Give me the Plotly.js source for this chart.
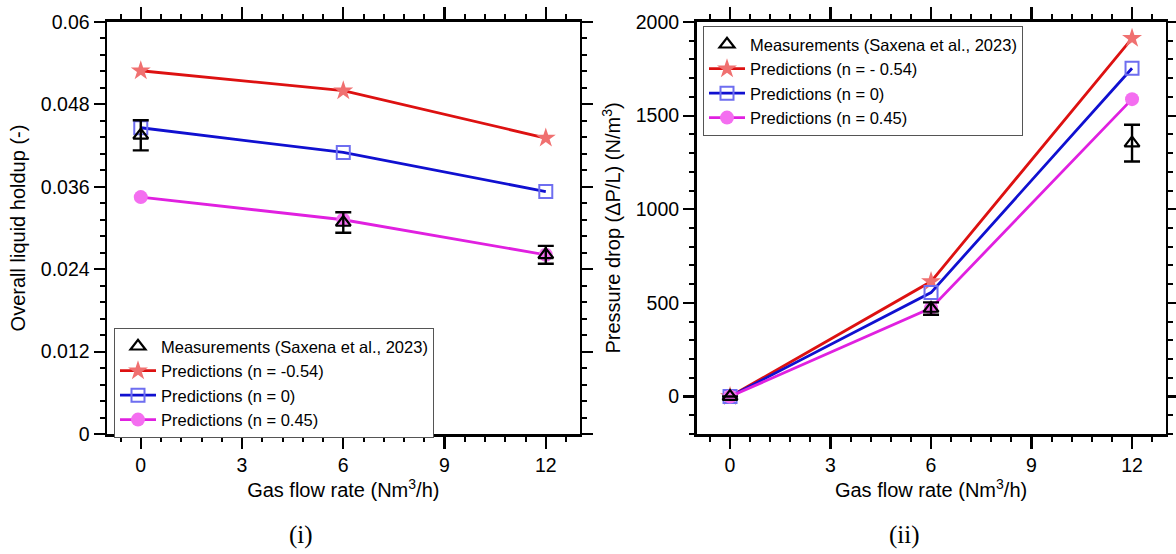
<!DOCTYPE html>
<html>
<head>
<meta charset="utf-8">
<script src="https://cdn.plot.ly/plotly-3.0.1.min.js"></script>
<style>
  html, body { margin: 0; padding: 0; background: #ffffff; }
  #chart { width: 1176px; height: 554px; }
</style>
</head>
<body>
<div id="chart"></div>
<script>
// Gas flow rates (Nm3/h)
const flowRates = [0, 6, 12];

// (i) Overall liquid holdup (-)
const holdupMeasured = [0.0435, 0.0308, 0.0261];
const holdupMeasuredErr = [0.0022, 0.0015, 0.0013];
const holdupNeg054 = [0.0529, 0.0500, 0.0431];
const holdupZero = [0.0446, 0.0410, 0.0353];
const holdupPos045 = [0.0345, 0.0312, 0.0261];

// (ii) Pressure drop ΔP/L (N/m3)
const dpMeasured = [0, 470, 1353];
const dpMeasuredErr = [0, 33, 98];
const dpNeg054 = [0, 614, 1913];
const dpZero = [0, 555, 1753];
const dpPos045 = [0, 472, 1588];

// Legend labels per panel
const labelsLeft = ['Measurements (Saxena et al., 2023)', 'Predictions (n = -0.54)', 'Predictions (n = 0)', 'Predictions (n = 0.45)'];
const labelsRight = ['Measurements (Saxena et al., 2023)', 'Predictions (n = - 0.54)', 'Predictions (n = 0)', 'Predictions (n = 0.45)'];

const FONT = 'Liberation Sans, Arial, sans-serif';
const TICK_SIZE = 19.5;
const TITLE_SIZE = 20;
const lineStyles = [
  { line: '#dd1111', marker: { symbol: 'star', size: 15, color: '#f07070' } },
  { line: '#1010d0', marker: { symbol: 'square-open', size: 13, color: '#6e6ef0', line: { width: 2 } } },
  { line: '#e020e0', marker: { symbol: 'circle', size: 14, color: '#f46ef0' } }
];

function panelTraces(xa, ya, legendId, labels, meas, measErr, preds) {
  const traces = [];
  preds.forEach((ys, i) => {
    const st = lineStyles[i];
    traces.push({
      x: flowRates, y: ys, xaxis: xa, yaxis: ya, legend: legendId,
      type: 'scatter', mode: 'lines+markers', name: labels[i + 1],
      legendrank: i + 2,
      line: { color: st.line, width: 2.8 },
      marker: Object.assign({}, st.marker)
    });
  });
  traces.push({
    x: flowRates, y: meas, xaxis: xa, yaxis: ya, legend: legendId,
    type: 'scatter', mode: 'markers', name: labels[0],
    legendrank: 1,
    marker: { symbol: 'triangle-up-open', size: 13, color: '#000000', line: { width: 2.2 } },
    error_y: { type: 'data', array: measErr, visible: true, color: '#000000', thickness: 2.4, width: 8 }
  });
  return traces;
}

const data = [].concat(
  panelTraces('x', 'y', 'legend', labelsLeft, holdupMeasured, holdupMeasuredErr, [holdupNeg054, holdupZero, holdupPos045]),
  panelTraces('x2', 'y2', 'legend2', labelsRight, dpMeasured, dpMeasuredErr, [dpNeg054, dpZero, dpPos045])
);

function xAxis(domain, anchor) {
  return {
    domain: domain, anchor: anchor, range: [-1, 13],
    tickmode: 'linear', tick0: 0, dtick: 3,
    ticks: 'outside', ticklen: 12, tickwidth: 2.2, tickcolor: '#000',
    minor: { dtick: 0.6, tick0: 0, ticks: 'outside', ticklen: 5, tickwidth: 2, tickcolor: '#000' },
    showline: true, linecolor: '#000', linewidth: 2.5, mirror: 'ticks',
    showgrid: false, zeroline: false,
    tickfont: { family: FONT, size: TICK_SIZE, color: '#000' },
    title: { text: 'Gas flow rate (Nm<sup>3</sup>/h)', font: { family: FONT, size: TITLE_SIZE, color: '#000' }, standoff: 2 }
  };
}

function yAxis(anchor, range, dtick, minorDtick, titleText) {
  return {
    domain: [0.2166, 0.9603], anchor: anchor, range: range,
    tickmode: 'linear', tick0: 0, dtick: dtick,
    ticks: 'outside', ticklen: 11, tickwidth: 2.2, tickcolor: '#000',
    minor: { dtick: minorDtick, tick0: 0, ticks: 'outside', ticklen: 5, tickwidth: 2, tickcolor: '#000' },
    showline: true, linecolor: '#000', linewidth: 2.5, mirror: 'ticks',
    showgrid: false, zeroline: false,
    tickfont: { family: FONT, size: TICK_SIZE, color: '#000' },
    title: { text: titleText, font: { family: FONT, size: TITLE_SIZE, color: '#000' }, standoff: 10 }
  };
}

const legendBase = {
  bgcolor: '#ffffff', bordercolor: '#555555', borderwidth: 1,
  font: { family: FONT, size: 16.5, color: '#000' },
  xanchor: 'left', yanchor: 'top', tracegroupgap: 0, itemwidth: 36
};

const layout = {
  width: 1176, height: 554,
  margin: { l: 0, r: 0, t: 0, b: 0 },
  paper_bgcolor: '#ffffff', plot_bgcolor: '#ffffff',
  showlegend: true,
  xaxis: xAxis([0.0910, 0.4928], 'y'),
  yaxis: yAxis('x', [0, 0.06], 0.012, 0.0024, 'Overall liquid holdup (-)'),
  xaxis2: xAxis([0.5923, 0.9911], 'y2'),
  yaxis2: yAxis('x2', [-200, 2000], 500, 100, 'Pressure drop (\u0394P/L) (N/m<sup>3</sup>)'),
  legend: Object.assign({ x: 114 / 1176, y: 1 - 328 / 554 }, legendBase),
  legend2: Object.assign({ x: 703 / 1176, y: 1 - 26 / 554 }, legendBase),
  annotations: [
    { text: '(i)', xref: 'paper', yref: 'paper', x: 301 / 1176, y: 1 - 535 / 554,
      xanchor: 'center', yanchor: 'middle', showarrow: false,
      font: { family: 'Liberation Serif, Times New Roman, serif', size: 25, color: '#000' } },
    { text: '(ii)', xref: 'paper', yref: 'paper', x: 904 / 1176, y: 1 - 535 / 554,
      xanchor: 'center', yanchor: 'middle', showarrow: false,
      font: { family: 'Liberation Serif, Times New Roman, serif', size: 25, color: '#000' } }
  ]
};

Plotly.newPlot('chart', data, layout, { displayModeBar: false, staticPlot: true });
</script>
</body>
</html>
